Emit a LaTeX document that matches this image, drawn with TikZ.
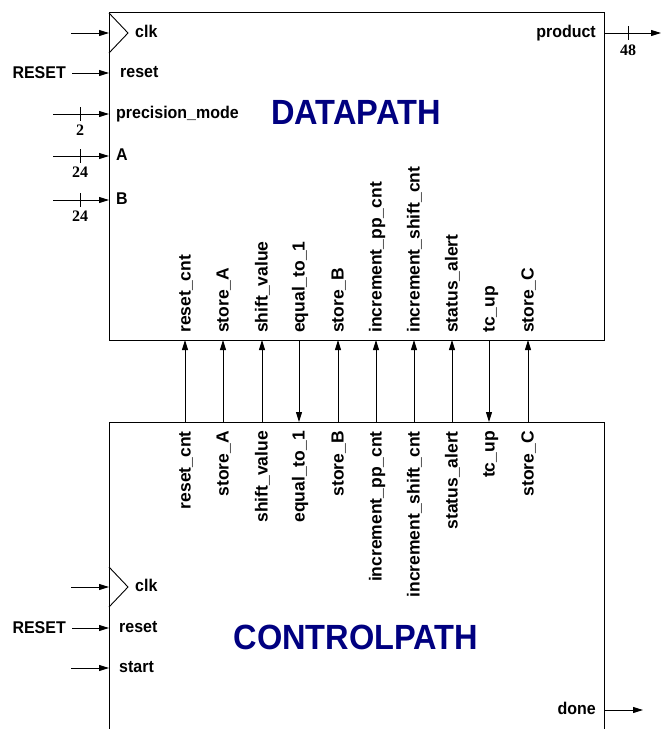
\documentclass[tikz,border=0pt]{standalone}
\usepackage{fontspec}
\setmainfont{Liberation Sans}
\newfontfamily\portfont{Liberation Sans}[FakeStretch=0.94]
\newfontfamily\titlefont{Liberation Sans}[FakeStretch=0.93]
\newfontfamily\busfont{Liberation Serif}
\usetikzlibrary{arrows.meta}
\definecolor{titleblue}{RGB}{0,0,128}

\tikzset{
  plain/.style={line width=0.9pt},
  wire/.style={line width=0.9pt, -{Triangle[length=10pt,width=6pt]}},
  box/.style={draw, line width=0.9pt, inner sep=0pt},
  port/.style={font=\portfont\bfseries\fontsize{17}{20}\selectfont, inner sep=0pt},
  vport/.style={font=\bfseries\fontsize{17.5}{20}\selectfont, inner sep=0pt, rotate=90},
  buswidth/.style={font=\busfont\bfseries\fontsize{16}{18}\selectfont, inner sep=0pt},
  blocktitle/.style={font=\titlefont\bfseries\fontsize{35}{40}\selectfont, text=titleblue, inner sep=0pt},
}

\begin{document}
\begin{tikzpicture}[x=1pt,y=1pt]
\useasboundingbox (0,0) rectangle (668,-729);

% ---------------- blocks ----------------
\node[box, minimum width=495pt, minimum height=328pt, anchor=north west] (dp) at (109,-12) {};
\node[inner sep=0pt, minimum width=495pt, minimum height=307pt, anchor=north west] (cp) at (109,-422) {};
\draw[plain] (cp.south west) -- (cp.north west) -- (cp.north east) -- (cp.south east);

\node[blocktitle] (dptitle) at (356,-112) {DATAPATH};
\node[blocktitle] (cptitle) at (356,-637) {CONTROLPATH};

% ---------------- datapath ports ----------------
\draw[plain] (109,-13) -- (128,-33) -- (109,-53);
\node[port, anchor=base west] (dpclk) at (135,-37.5) {clk};
\node[port, anchor=base west] (dpreset) at (120,-77.5) {reset};
\node[port, anchor=base west] (dpprec) at (116,-118.5) {precision\_mode};
\node[port, anchor=base west] (dpA) at (116,-160.5) {A};
\node[port, anchor=base west] (dpB) at (116,-204.5) {B};
\node[port, anchor=base east] (dpprod) at (596,-37.5) {product};
\node[port, anchor=base east] (dpRST) at (66,-78) {RESET};

\coordinate (dpclkin) at (71,-33);   \coordinate (dpclkp) at (109,-33);
\coordinate (dprstin) at (72,-73);   \coordinate (dprstp) at (109,-73);
\coordinate (dpprecin) at (53,-114); \coordinate (dpprecp) at (109,-114);
\coordinate (dpAin) at (53,-156);    \coordinate (dpAp) at (109,-156);
\coordinate (dpBin) at (53,-200);    \coordinate (dpBp) at (109,-200);
\coordinate (dpprodp) at (604,-33);  \coordinate (dpprodout) at (661,-33);

\draw[wire] (dpclkin) -- (dpclkp);
\draw[wire] (dprstin) -- (dprstp);
\draw[wire] (dpprecin) -- (dpprecp);
\draw[wire] (dpAin) -- (dpAp);
\draw[wire] (dpBin) -- (dpBp);
\draw[wire] (dpprodp) -- (dpprodout);

% bus width marks
\coordinate (tkprec) at (80,-114);
\coordinate (tkA) at (80,-156);
\coordinate (tkB) at (80,-200);
\coordinate (tkprod) at (628,-33);
\foreach \t in {tkprec,tkA,tkB,tkprod}
  \draw[plain] (\t) ++(0,7) -- ++(0,-14);
\node[buswidth, anchor=base] (wprec) at (80,-135) {2};
\node[buswidth, anchor=base] (wA) at (80,-177) {24};
\node[buswidth, anchor=base] (wB) at (80,-221) {24};
\node[buswidth, anchor=base] (wprod) at (628,-55) {48};

% ---------------- controlpath ports ----------------
\draw[plain] (109,-567) -- (128,-587) -- (109,-607);
\node[port, anchor=base west] (cpclk) at (135,-591.5) {clk};
\node[port, anchor=base west] (cpreset) at (119,-632.5) {reset};
\node[port, anchor=base west] (cpstart) at (119,-672.5) {start};
\node[port, anchor=base east] (cpdone) at (596,-714.5) {done};
\node[port, anchor=base east] (cpRST) at (66,-633) {RESET};

\coordinate (cpclkin) at (71,-587);   \coordinate (cpclkp) at (109,-587);
\coordinate (cprstin) at (72,-628);   \coordinate (cprstp) at (109,-628);
\coordinate (cpstartin) at (71,-668); \coordinate (cpstartp) at (109,-668);
\coordinate (cpdonep) at (604,-710);  \coordinate (cpdoneout) at (643,-710);

\draw[wire] (cpclkin) -- (cpclkp);
\draw[wire] (cprstin) -- (cprstp);
\draw[wire] (cpstartin) -- (cpstartp);
\draw[wire] (cpdonep) -- (cpdoneout);

% ---------------- control / status signals ----------------
\foreach \x/\n/\s/\t [count=\i] in {
    185/reset\_cnt/cp/dp,
    223/store\_A/cp/dp,
    262/shift\_value/cp/dp,
    299/equal\_to\_1/dp/cp,
    338/store\_B/cp/dp,
    376/increment\_pp\_cnt/cp/dp,
    414/increment\_shift\_cnt/cp/dp,
    452/status\_alert/cp/dp,
    489/tc\_up/dp/cp,
    528/store\_C/cp/dp} {
  \coordinate (dp\i) at (\x,-340);
  \coordinate (cp\i) at (\x,-422);
  \draw[wire] (\s\i) -- (\t\i);
  \node[vport, anchor=base west] (dpl\i) at (\x+5.5,-333) {\n};
  \node[vport, anchor=base east] (cpl\i) at (\x+5.5,-431) {\n};
}
\end{tikzpicture}
\end{document}
